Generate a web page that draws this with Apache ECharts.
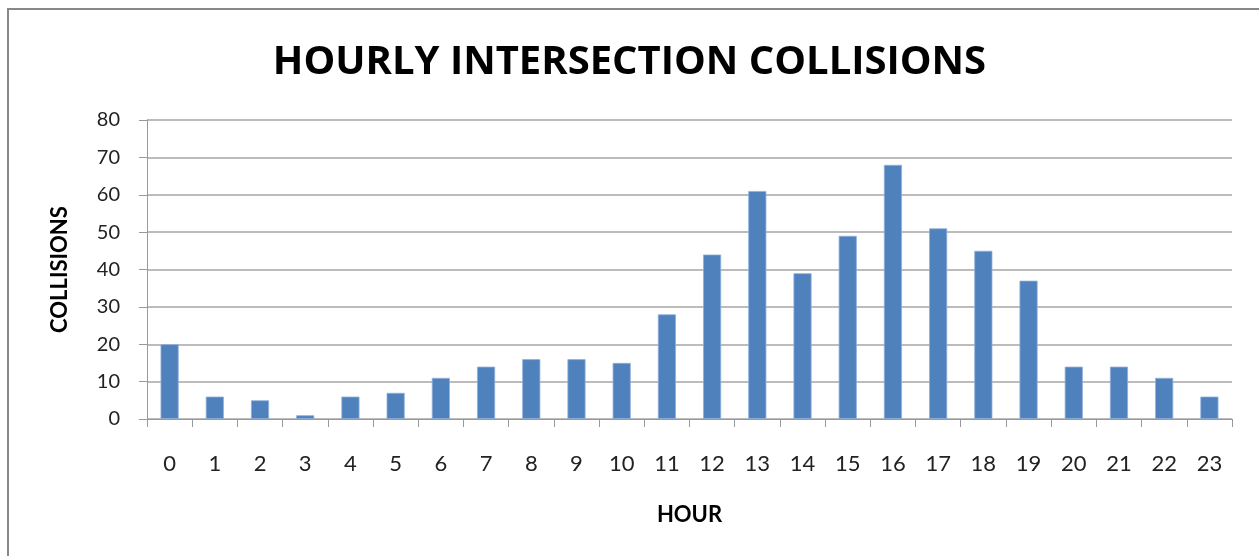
<!DOCTYPE html>
<html>
<head>
<meta charset="utf-8">
<script src="https://cdn.jsdelivr.net/npm/echarts@6/dist/echarts.min.js"></script>
<style>
html,body{margin:0;padding:0;background:#fff;}
#chart{width:1259px;height:556px;}
</style>
</head>
<body>
<div id="chart"></div>
<script>
const hours = ['0','1','2','3','4','5','6','7','8','9','10','11','12','13','14','15','16','17','18','19','20','21','22','23'];
const collisions = [20,6,5,1,6,7,11,14,16,16,15,28,44,61,39,49,68,51,45,37,14,14,11,6];
const yTicks = {min:0, max:80, interval:10};
const titleText = 'HOURLY INTERSECTION COLLISIONS';
const xName = 'HOUR';
const yName = 'COLLISIONS';

const font = 'Lato, "Open Sans", sans-serif';
const chart = echarts.init(document.getElementById('chart'), null, {renderer:'canvas'});
chart.setOption({
  animation:false,
  backgroundColor:'#fff',
  graphic:[{
    type:'polyline',
    shape:{points:[[8,600],[8,9],[1300,9]]},
    style:{stroke:'#888',lineWidth:2,fill:null},
    silent:true
  }],
  title:{
    text:titleText,
    left:'center',
    top:38,
    textStyle:{fontFamily:'"Open Sans", Lato, sans-serif',fontSize:40,fontWeight:'bold',color:'#000'}
  },
  grid:{left:147,right:27,top:120,bottom:137,containLabel:false},
  xAxis:{
    type:'category',
    data:hours,
    boundaryGap:true,
    name:xName,
    nameLocation:'middle',
    nameGap:85,
    nameTextStyle:{fontFamily:font,fontSize:22,fontWeight:'bold',color:'#000',verticalAlign:'top'},
    axisLine:{show:true,lineStyle:{color:'#999',width:1}},
    axisTick:{show:true,length:8,alignWithLabel:false,lineStyle:{color:'#999'}},
    axisLabel:{fontFamily:font,fontSize:22,color:'#222',margin:34,interval:0}
  },
  yAxis:{
    type:'value',
    min:yTicks.min,max:yTicks.max,interval:yTicks.interval,
    name:yName,
    nameLocation:'middle',
    nameGap:76,
    nameRotate:90,
    nameTextStyle:{fontFamily:font,fontSize:22,fontWeight:'bold',color:'#000'},
    axisLine:{show:true,lineStyle:{color:'#999',width:1}},
    axisTick:{show:true,length:8,lineStyle:{color:'#999'}},
    axisLabel:{fontFamily:font,fontSize:20,color:'#222',margin:27},
    splitLine:{show:true,lineStyle:{color:'#a6a6a6',width:1.5}}
  },
  series:[{
    type:'bar',
    data:collisions,
    barWidth:'40%',
    itemStyle:{color:'#4F81BD',borderColor:'#8FB0DA',borderWidth:0.8}
  }]
});
</script>
</body>
</html>
